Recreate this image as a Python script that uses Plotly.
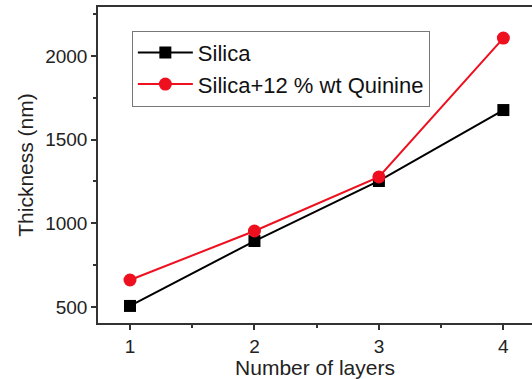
import plotly.graph_objects as go

layers = [1, 2, 3, 4]
silica = [506, 894, 1253, 1677]
silica_quinine = [661, 954, 1277, 2107]
series_names = ["Silica", "Silica+12 % wt Quinine"]

fig = go.Figure()
fig.add_trace(go.Scatter(x=layers, y=silica, name=series_names[0], mode="lines+markers",
                         line=dict(color="black", width=2),
                         marker=dict(symbol="square", size=12, color="black")))
fig.add_trace(go.Scatter(x=layers, y=silica_quinine, name=series_names[1], mode="lines+markers",
                         line=dict(color="#ee0f1f", width=2),
                         marker=dict(symbol="circle", size=13, color="#ee0f1f")))

font = "Liberation Sans, Arial, sans-serif"
fig.update_layout(
    width=532, height=379,
    margin=dict(l=98, r=0, t=7, b=56),
    paper_bgcolor="white", plot_bgcolor="white",
    font=dict(family=font, color="#222"),
    showlegend=True,
    legend=dict(x=0.078, y=0.925, xanchor="left", yanchor="top",
                bordercolor="#777", borderwidth=1, bgcolor="white",
                font=dict(size=22, color="#111"), tracegroupgap=0,
                itemwidth=55),
    xaxis=dict(range=[0.743, 4.23], tickvals=[1, 2, 3, 4], ticks="outside",
               ticklen=5, tickwidth=1.5, tickcolor="#333",
               minor=dict(tickvals=[1.5, 2.5, 3.5], ticks="outside", ticklen=3, tickcolor="#333"),
               showline=True, linecolor="#333", linewidth=1.5, mirror=True,
               showgrid=False, zeroline=False,
               tickfont=dict(size=19),
               title=dict(text="Number of layers", font=dict(size=21), standoff=4)),
    yaxis=dict(range=[404, 2293], tickvals=[500, 1000, 1500, 2000], ticks="outside",
               ticklen=5, tickwidth=1.5, tickcolor="#333",
               minor=dict(tickvals=[750, 1250, 1750, 2250], ticks="outside", ticklen=3, tickcolor="#333"),
               showline=True, linecolor="#333", linewidth=1.5,
               showgrid=False, zeroline=False,
               tickfont=dict(size=19),
               title=dict(text="Thickness (nm)", font=dict(size=21), standoff=6)),
)

fig.write_html("out.html")
